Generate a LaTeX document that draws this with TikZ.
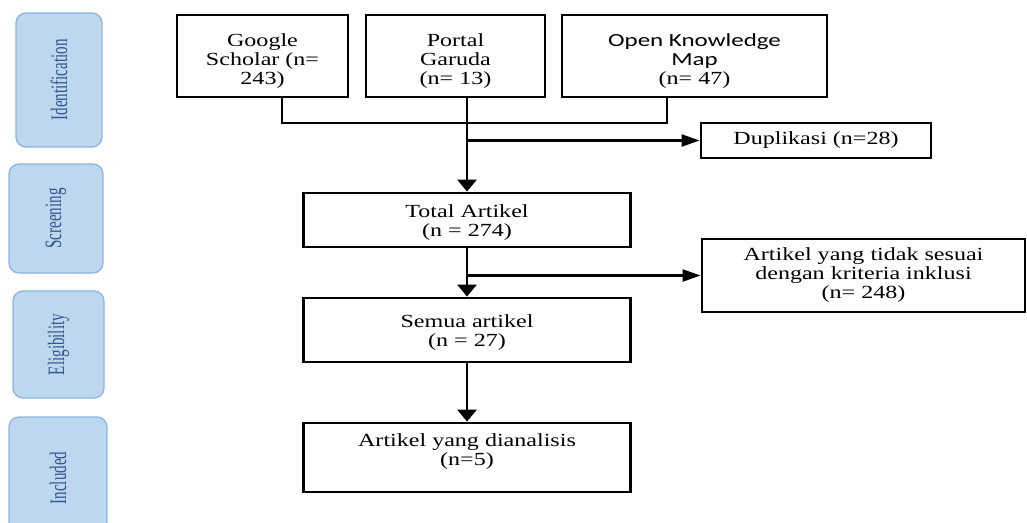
\documentclass[tikz,border=0pt]{standalone}
\usepackage{fontspec}
\setmainfont{Liberation Serif}[FakeStretch=1.3]
\newfontfamily\okmfont{Carlito}[FakeStretch=1.35]
\newfontfamily\fasefont{Liberation Serif}[FakeStretch=0.64]
\usepackage{tikz}
\usetikzlibrary{arrows.meta,calc,positioning}
\tikzset{
  kotak/.style = {draw, line width=2.8pt, align=center, inner sep=0pt,
  text centered, font=\fontsize{18.5}{19}\selectfont},
  fase/.style = {draw=fase_garis, fill=fase_isi, line width=1.3pt, rounded corners=10pt,
  rotate=90, text=fase_teks, font=\fasefont\fontsize{23.5}{26}\selectfont}
}
\definecolor{fase_isi}{RGB}{189, 215, 238}
\definecolor{fase_garis}{RGB}{141, 180, 226}
\definecolor{fase_teks}{RGB}{50, 84, 145}

\begin{document}
\begin{tikzpicture}[x=1pt, y=-1pt,
        	garis/.style={line width=2.8pt},
        	panah_b/.style={garis, -{Triangle[length=12pt, width=19pt]}},
        	panah_k/.style={line width=2.2pt, -{Triangle[length=18pt, width=12pt]}}]
    \useasboundingbox (0,0) rectangle (1027,522);
    \clip (0,0) rectangle (1027,522);
    % tahap
    \node [fase, minimum width=134pt, minimum height=86pt] (f_id) at (59,80) {Identification};
    \node [fase, minimum width=109pt, minimum height=94pt] (f_scr) at (56,218.5) {Screening};
    \node [fase, minimum width=107pt, minimum height=91pt] (f_elig) at (58.5,344.5) {Eligibility};
    \node [fase, minimum width=122pt, minimum height=98pt] (f_incl) at (58,478) {Included};
    % sumber
    \node [kotak, minimum width=171pt, minimum height=82pt] (scholar) at (262.5,56) {\rule{0pt}{22pt}Google\\Scholar (n=\\243)};
    \node [kotak, minimum width=179pt, minimum height=82pt] (garuda) at (455.5,56) {\rule{0pt}{22pt}Portal\\Garuda\\(n= 13)};
    \node [kotak, minimum width=265pt, minimum height=82pt] (okm) at (694.5,56) {\rule{0pt}{22pt}{\okmfont Open Knowledge}\\{\okmfont Map}\\(n= 47)};
    \node [kotak, minimum width=230pt, minimum height=35pt] (dup) at (816,140.5) {Duplikasi (n=28)};
    \node [kotak, minimum width=327pt, minimum height=54pt] (total) at (467,220) {\rule{0pt}{18pt}Total Artikel\\(n = 274)};
    \node [kotak, minimum width=323pt, minimum height=73pt] (tidak) at (863.5,275.5) {Artikel yang tidak sesuai\\dengan kriteria inklusi\\(n= 248)};
    \node [kotak, minimum width=327pt, minimum height=64pt] (semua) at (467,330) {\rule{0pt}{18pt}Semua artikel\\(n = 27)};
    \node [kotak, minimum width=327pt, minimum height=69pt] (hasil) at (467,457.5) {Artikel yang dianalisis\\(n=5)\\[-9pt]\strut};
    % penghubung
    \coordinate (jl) at (282,123);
    \coordinate (jr) at (667,123);
    \draw [garis] (scholar.south -| jl) -- (jl) -- (jr) -- (okm.south -| jr);
    \draw [panah_b] (garuda.south -| total.north) -- (total.north);
    \draw [panah_k] (total.north |- dup.west) -- (dup.west);
    \draw [panah_b] (total.south) -- (semua.north);
    \draw [panah_k] (total.south |- tidak.west) -- (tidak.west);
    \draw [panah_b] (semua.south) -- (hasil.north);
\end{tikzpicture}
\end{document}
